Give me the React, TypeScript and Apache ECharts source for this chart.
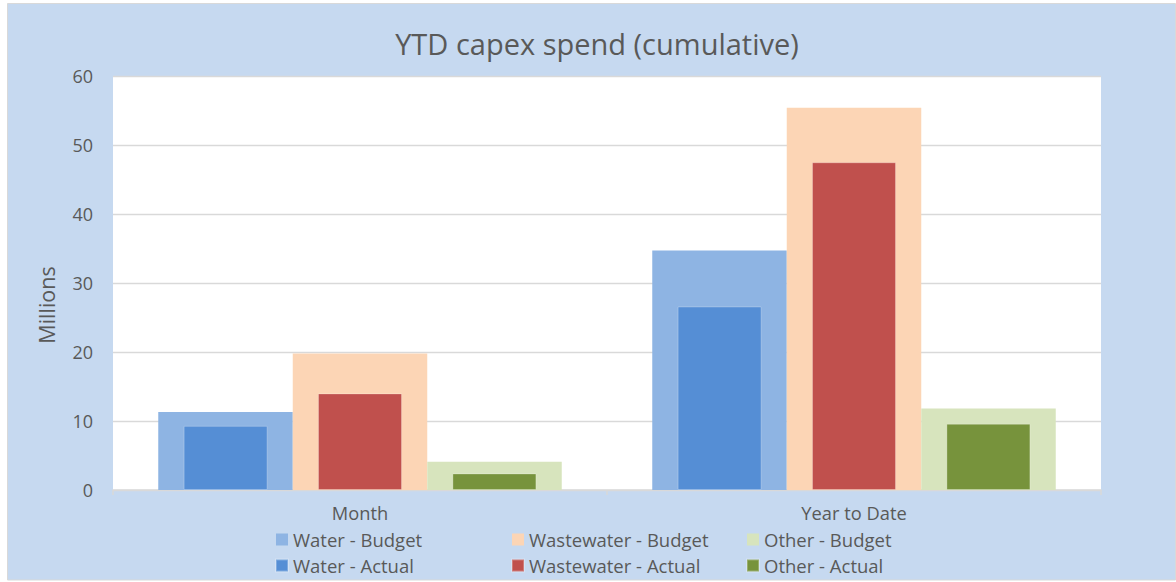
import React, { useEffect, useRef } from "react";
import * as echarts from "echarts";

const categories = ["Month", "Year to Date"];
const waterBudget = [11.3, 34.7];
const wastewaterBudget = [19.8, 55.4];
const otherBudget = [4.1, 11.8];
const waterActual = [9.3, 26.6];
const wastewaterActual = [14.0, 47.5];
const otherActual = [2.4, 9.6];
const yAxisTitle = "Millions";

const FONT = "'Open Sans', 'Liberation Sans', sans-serif";
const TXT = "#595959";
const GRIDC = "#D9D9D9";

export default function App() {
  const ref = useRef<HTMLDivElement>(null);
  useEffect(() => {
    document.body.style.margin = "0";
    const chart = echarts.init(ref.current!, undefined, { renderer: "svg" });
    const budgetSeries = (name: string, data: number[], color: string) => ({
      name,
      type: "bar",
      xAxisIndex: 0,
      yAxisIndex: 0,
      data,
      barWidth: 134.5,
      barGap: "0%",
      itemStyle: { color },
      z: 2,
    });
    const actualSeries = (name: string, data: number[], color: string) => ({
      name,
      type: "bar",
      xAxisIndex: 1,
      yAxisIndex: 0,
      data,
      barWidth: 84,
      barGap: "60%",
      itemStyle: { color, borderColor: "rgba(255,255,255,0.25)", borderWidth: 1 },
      z: 3,
    });
    const legendBase = {
      orient: "vertical",
      top: 530,
      padding: 0,
      itemWidth: 12,
      itemHeight: 12,
      itemGap: 7,
      icon: "rect",
      textStyle: { fontFamily: FONT, fontSize: 18.5, color: TXT, lineHeight: 16 },
    };
    chart.setOption({
      animation: false,
      backgroundColor: "#ffffff",
      textStyle: { fontFamily: FONT },
      graphic: [
        {
          type: "rect",
          z: -10,
          silent: true,
          shape: { x: 7.5, y: 3.5, width: 1168, height: 576.5 },
          style: { fill: "#C6D9F0", stroke: "#D9D9D9", lineWidth: 1 },
        },
        {
          type: "text",
          x: 46,
          y: 305,
          rotation: Math.PI / 2,
          silent: true,
          style: {
            text: yAxisTitle,
            fontFamily: FONT,
            fontSize: 21.5,
            fill: TXT,
            align: "center",
            verticalAlign: "middle",
          },
        },
      ],
      title: {
        text: "YTD capex spend (cumulative)",
        left: 592,
        textAlign: "center",
        top: 24,
        textStyle: { fontFamily: FONT, fontSize: 29, fontWeight: "normal", color: TXT },
      },
      legend: [
        { ...legendBase, left: 275, data: ["Water - Budget", "Water - Actual"] },
        { ...legendBase, left: 511, data: ["Wastewater - Budget", "Wastewater - Actual"] },
        { ...legendBase, left: 746, data: ["Other - Budget", "Other - Actual"] },
      ],
      grid: {
        left: 113,
        right: 75,
        top: 76,
        bottom: 92,
        show: true,
        backgroundColor: "#ffffff",
        borderWidth: 0,
      },
      xAxis: [
        {
          type: "category",
          data: categories,
          axisLine: { lineStyle: { color: GRIDC, width: 1.5 } },
          axisTick: { show: true, length: 5, lineStyle: { color: GRIDC, width: 1.5 } },
          axisLabel: { fontFamily: FONT, fontSize: 18.3, color: TXT, margin: 14.5, lineHeight: 16 },
        },
        {
          type: "category",
          data: categories,
          show: false,
        },
      ],
      yAxis: {
        type: "value",
        min: 0,
        max: 60,
        interval: 10,
        axisLine: { show: false },
        axisTick: { show: false },
        axisLabel: { fontFamily: FONT, fontSize: 18, color: TXT, margin: 20 },
        splitLine: { lineStyle: { color: GRIDC, width: 1.3 } },
      },
      series: [
        budgetSeries("Water - Budget", waterBudget, "#8EB4E3"),
        budgetSeries("Wastewater - Budget", wastewaterBudget, "#FCD5B5"),
        budgetSeries("Other - Budget", otherBudget, "#D7E4BD"),
        actualSeries("Water - Actual", waterActual, "#558ED5"),
        actualSeries("Wastewater - Actual", wastewaterActual, "#C0504D"),
        actualSeries("Other - Actual", otherActual, "#77933C"),
      ],
    });
    return () => chart.dispose();
  }, []);
  return <div ref={ref} style={{ width: 1176, height: 582 }} />;
}
